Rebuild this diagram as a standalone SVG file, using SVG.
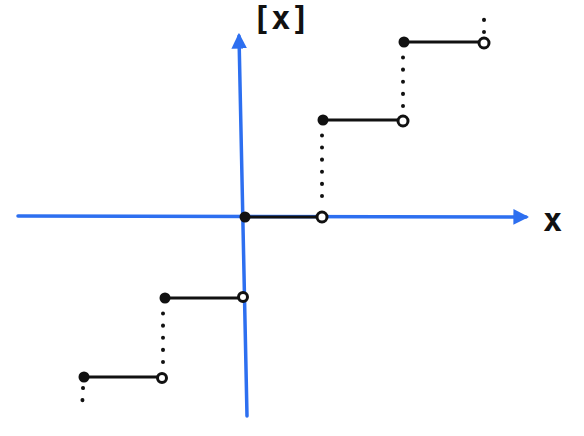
<svg xmlns="http://www.w3.org/2000/svg" width="584" height="436" viewBox="0 0 584 436">
<defs>
<marker id="ah" viewBox="0 0 10 10" refX="8" refY="5" markerWidth="4.5" markerHeight="4.5" orient="auto" markerUnits="strokeWidth">
<path d="M0,0 L10,5 L0,10 z" fill="#2d6ff0"/>
</marker>
<style>
.axis{stroke:#2d6ff0;stroke-width:3.5;fill:none;stroke-linecap:round}
.seg{stroke:#111;stroke-width:3;fill:none;stroke-linecap:round}
.dot{stroke:#111;stroke-width:4;fill:none;stroke-linecap:round;stroke-dasharray:0.1 12}
.filled{fill:#111}
.open{fill:#fff;stroke:#111;stroke-width:3}
.lbl{font-family:"DejaVu Sans Mono","Liberation Mono",monospace;font-weight:bold;fill:#111}
</style>
</defs>
<g id="connectors">
<path class="axis" d="M18,216 L526,217" marker-end="url(#ah)"/>
<path class="axis" d="M247,416 L239,36" marker-end="url(#ah)"/>
<path class="dot" d="M322,196 L322,134"/>
<path class="dot" d="M403,106 L403,54"/>
<path class="dot" d="M484,32 L484,8"/>
<path class="dot" d="M163,362 L163,308"/>
<path class="dot" d="M83,388 L82,410"/>
</g>
<g id="step0">
<line class="seg" x1="245" y1="217" x2="316" y2="217"/>
<circle class="filled" cx="245" cy="217" r="5.5"/>
<circle class="open" cx="322" cy="217" r="5"/>
</g>
<g id="step1">
<line class="seg" x1="323" y1="120" x2="397" y2="120"/>
<circle class="filled" cx="323" cy="120" r="5.5"/>
<circle class="open" cx="403" cy="121" r="5"/>
</g>
<g id="step2">
<line class="seg" x1="404" y1="42" x2="478" y2="42"/>
<circle class="filled" cx="404" cy="42" r="5.5"/>
<circle class="open" cx="484" cy="43" r="5"/>
</g>
<g id="stepm1">
<line class="seg" x1="165" y1="298" x2="238" y2="298"/>
<circle class="filled" cx="165" cy="298" r="5.5"/>
<circle class="open" cx="243" cy="297" r="4.5"/>
</g>
<g id="stepm2">
<line class="seg" x1="84" y1="377" x2="157" y2="377"/>
<circle class="filled" cx="84" cy="377" r="5.5"/>
<circle class="open" cx="162" cy="378" r="4.5"/>
</g>
<g id="label-floor">
<text class="lbl" x="252" y="29" font-size="32">[x]</text>
</g>
<g id="label-x">
<text class="lbl" x="543" y="231" font-size="32">x</text>
</g>
</svg>
